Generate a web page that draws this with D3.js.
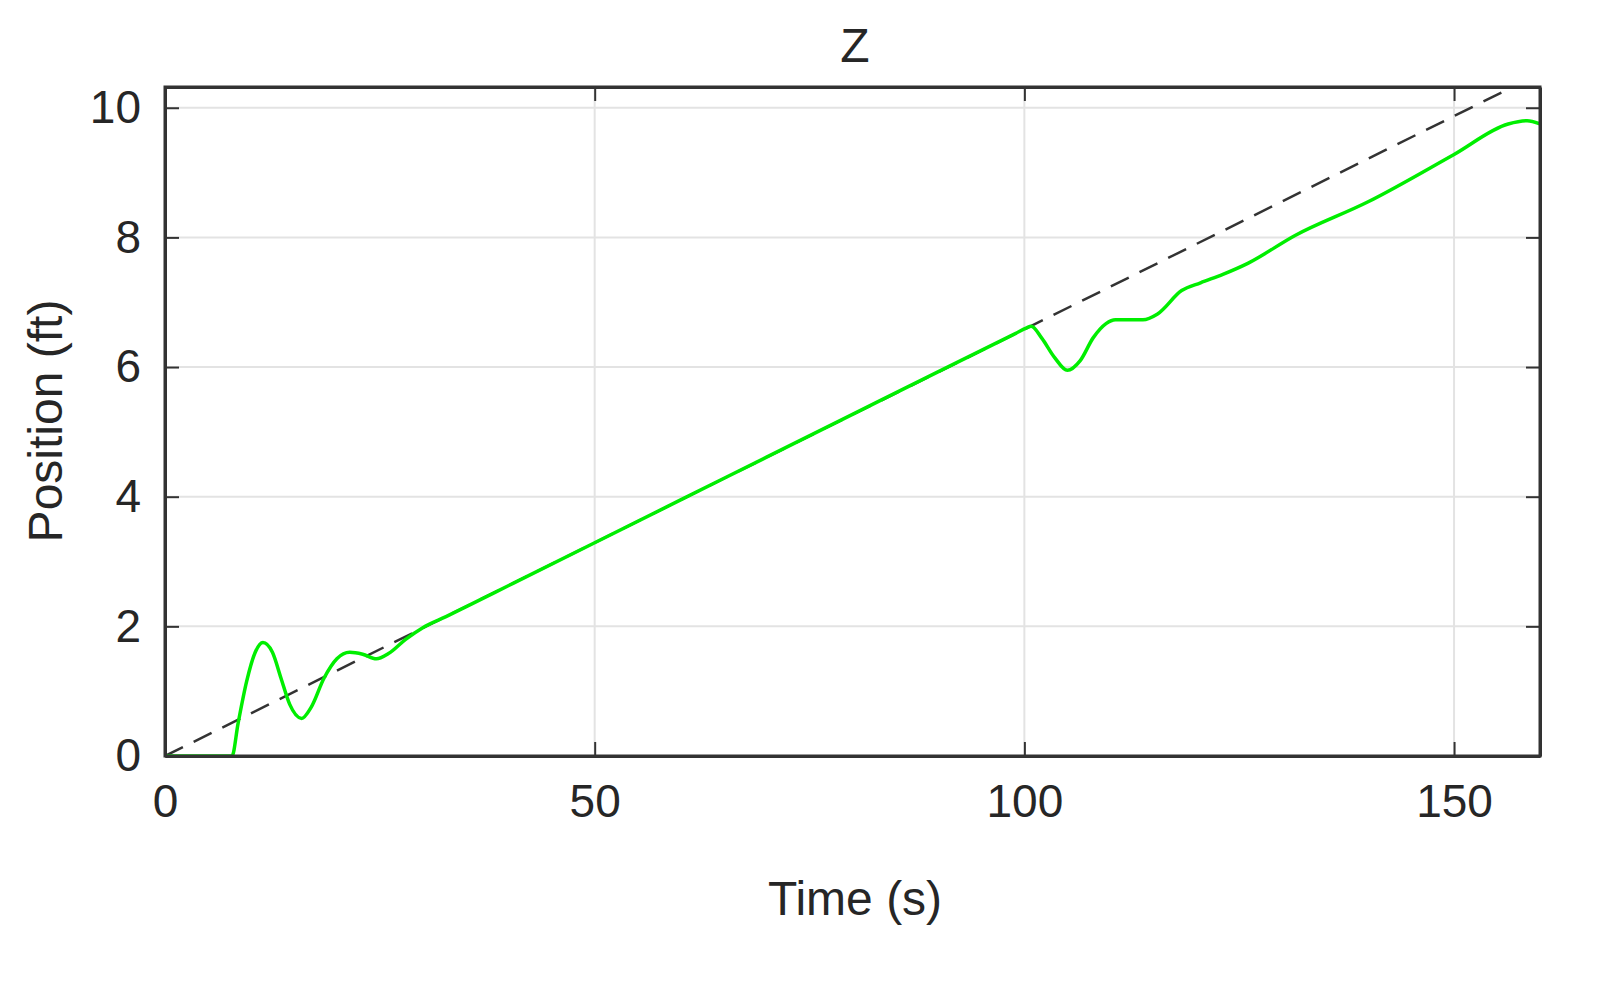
<!DOCTYPE html>
<html><head><meta charset="utf-8">
<script src="https://cdn.jsdelivr.net/npm/d3@7"></script>
<style>body{margin:0;background:#fff}text{font-family:"Liberation Sans",Arial,sans-serif;fill:#262626}</style>
</head><body><svg id="c" width="1617" height="984"></svg>
<script>
const xTicks=[0,50,100,150];
const yTicks=[0,2,4,6,8,10];
const refT=[0,160];
const refZ=[0,10.53];
const actT=[0,7.8,8.5,9.5,10.5,11.4,12.5,13.5,14.5,15.9,17,18.5,20,21.5,23,24.6,26,28,30,32.7,35,40,50,60,70,80,90,99,100.2,100.8,102,103.5,105,106.5,108,109.5,110.6,112,113.8,115.5,118.3,120.5,123.1,126,131.5,140,150,156.3,158.5,160];
const actZ=[0,0,0.5,1.15,1.6,1.75,1.6,1.2,0.8,0.58,0.75,1.2,1.5,1.6,1.57,1.5,1.58,1.8,1.98,2.15,2.3,2.63,3.29,3.95,4.61,5.27,5.93,6.52,6.6,6.63,6.45,6.15,5.95,6.1,6.45,6.67,6.73,6.73,6.73,6.82,7.18,7.3,7.43,7.6,8.03,8.55,9.28,9.75,9.8,9.75];
const svg=d3.select("#c");
const L=165,R=1540,T=87,B=756;
const x=d3.scaleLinear().domain([0,160]).range([L,R]);
const y=d3.scaleLinear().domain([0,10.32]).range([B,T]);
const g=svg.append("g");
g.selectAll(".gx").data(xTicks).join("line").attr("x1",d=>x(d)).attr("x2",d=>x(d)).attr("y1",T).attr("y2",B).attr("stroke","#e3e3e3").attr("stroke-width",2);
g.selectAll(".gy").data(yTicks).join("line").attr("y1",d=>y(d)).attr("y2",d=>y(d)).attr("x1",L).attr("x2",R).attr("stroke","#e3e3e3").attr("stroke-width",2);
svg.append("clipPath").attr("id","cp").append("rect").attr("x",L).attr("y",T).attr("width",R-L).attr("height",B-T);
const line=d3.line().x(d=>x(d[0])).y(d=>y(d[1]));
svg.append("path").attr("clip-path","url(#cp)").attr("d",line(refT.map((t,i)=>[t,refZ[i]]))).attr("fill","none").attr("stroke","#333").attr("stroke-width",2.5).attr("stroke-dasharray","20,12");
svg.append("path").attr("clip-path","url(#cp)").attr("d",d3.line().curve(d3.curveMonotoneX).x(d=>x(d[0])).y(d=>y(d[1]))(actT.map((t,i)=>[t,actZ[i]]))).attr("fill","none").attr("stroke","#00ee00").attr("stroke-width",3.5);
const ax=svg.append("g").attr("transform",`translate(0,${B})`).call(d3.axisBottom(x).tickValues(xTicks).tickSizeInner(-14).tickSizeOuter(0).tickPadding(28));
const ax2=svg.append("g").attr("transform",`translate(0,${T})`).call(d3.axisTop(x).tickValues(xTicks).tickSizeInner(-14).tickSizeOuter(0).tickFormat(""));
const ay=svg.append("g").attr("transform",`translate(${L},0)`).call(d3.axisLeft(y).tickValues(yTicks).tickSizeInner(-14).tickSizeOuter(0).tickPadding(24));
const ay2=svg.append("g").attr("transform",`translate(${R},0)`).call(d3.axisRight(y).tickValues(yTicks).tickSizeInner(-14).tickSizeOuter(0).tickFormat(""));
[ax,ax2,ay,ay2].forEach(a=>{a.selectAll("path").attr("stroke","#333").attr("stroke-width",3);a.selectAll("line").attr("stroke","#333").attr("stroke-width",2);a.selectAll("text").style("font-size","46px").attr("fill","#262626");});
svg.append("rect").attr("x",L).attr("y",T).attr("width",R-L).attr("height",B-T).attr("fill","none").attr("stroke","#333").attr("stroke-width",3);
svg.append("text").attr("x",855).attr("y",62).attr("text-anchor","middle").style("font-size","48px").text("Z");
svg.append("text").attr("x",855).attr("y",915).attr("text-anchor","middle").style("font-size","48px").text("Time (s)");
svg.append("text").attr("transform","translate(62,421) rotate(-90)").attr("text-anchor","middle").style("font-size","48px").text("Position (ft)");
</script></body></html>
